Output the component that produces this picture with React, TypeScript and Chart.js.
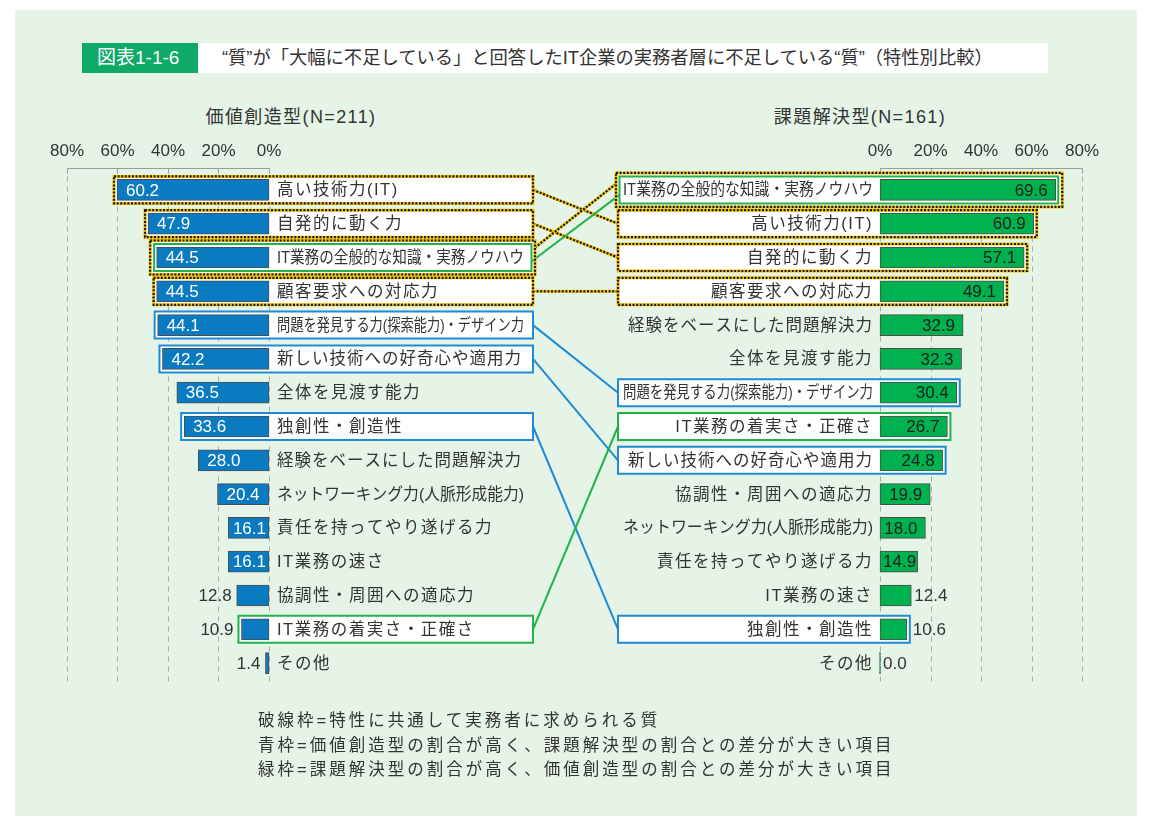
import React, { useEffect, useRef } from 'react';
import { Chart, registerables } from 'chart.js';

Chart.register(...registerables);

// ---------- data ----------
const leftCategories = [
  '高い技術力(IT)',
  '自発的に動く力',
  'IT業務の全般的な知識・実務ノウハウ',
  '顧客要求への対応力',
  '問題を発見する力(探索能力)・デザイン力',
  '新しい技術への好奇心や適用力',
  '全体を見渡す能力',
  '独創性・創造性',
  '経験をベースにした問題解決力',
  'ネットワーキング力(人脈形成能力)',
  '責任を持ってやり遂げる力',
  'IT業務の速さ',
  '協調性・周囲への適応力',
  'IT業務の着実さ・正確さ',
  'その他',
];
const leftValues = [60.2, 47.9, 44.5, 44.5, 44.1, 42.2, 36.5, 33.6, 28.0, 20.4, 16.1, 16.1, 12.8, 10.9, 1.4];

const rightCategories = [
  'IT業務の全般的な知識・実務ノウハウ',
  '高い技術力(IT)',
  '自発的に動く力',
  '顧客要求への対応力',
  '経験をベースにした問題解決力',
  '全体を見渡す能力',
  '問題を発見する力(探索能力)・デザイン力',
  'IT業務の着実さ・正確さ',
  '新しい技術への好奇心や適用力',
  '協調性・周囲への適応力',
  'ネットワーキング力(人脈形成能力)',
  '責任を持ってやり遂げる力',
  'IT業務の速さ',
  '独創性・創造性',
  'その他',
];
const rightValues = [69.6, 60.9, 57.1, 49.1, 32.9, 32.3, 30.4, 26.7, 24.8, 19.9, 18.0, 14.9, 12.4, 10.6, 0.0];

const tickValues = [0, 20, 40, 60, 80];

const commonItems = ['高い技術力(IT)', '自発的に動く力', 'IT業務の全般的な知識・実務ノウハウ', '顧客要求への対応力'];
const blueItems = ['問題を発見する力(探索能力)・デザイン力', '新しい技術への好奇心や適用力', '独創性・創造性'];
const greenItems = ['IT業務の全般的な知識・実務ノウハウ', 'IT業務の着実さ・正確さ'];

const figureNo = '図表1-1-6';
const titleText = '“質”が「大幅に不足している」と回答したIT企業の実務者層に不足している“質”（特性別比較）';
const leftTitle = '価値創造型(N=211)';
const rightTitle = '課題解決型(N=161)';
const notes = [
  '破線枠=特性に共通して実務者に求められる質',
  '青枠=価値創造型の割合が高く、課題解決型の割合との差分が大きい項目',
  '緑枠=課題解決型の割合が高く、価値創造型の割合との差分が大きい項目',
];

// ---------- style ----------
const FONT = '"Liberation Sans", "Noto Sans CJK JP", sans-serif';
const TEXT = '#333333';
const BLUE_BAR = '#0b7bc1';
const GREEN_BAR = '#00b14f';
const BLUE_LINE = '#1f8bd3';
const GREEN_LINE = '#22b24c';
const YELLOW = '#f4c300';

type Box = {
  side: 'L' | 'R';
  name: string;
  kind: string;
  double: boolean;
  x1: number;
  x2: number;
  y1: number;
  y2: number;
  y: number;
};

function sideBoxes(chart: any, side: 'L' | 'R'): Box[] {
  const isL = side === 'L';
  const cats = isL ? leftCategories : rightCategories;
  const vals = isL ? leftValues : rightValues;
  const xs = isL ? chart.scales.xL : chart.scales.xR;
  const ys = isL ? chart.scales.yL : chart.scales.yR;
  const zero = xs.getPixelForValue(0);
  const fixedEdge = isL ? zero + 264 : zero - 262;
  const out: Box[] = [];
  cats.forEach((name, i) => {
    const kinds: string[] = [];
    if (commonItems.includes(name)) kinds.push('dash');
    if (blueItems.includes(name)) kinds.push('blue');
    if (greenItems.includes(name)) kinds.push('green');
    const y = ys.getPixelForValue(i);
    const barEnd = xs.getPixelForValue(vals[i]);
    kinds.forEach((kind, k) => {
      const double = kinds.length > 1;
      const outer = double && k === 0;
      const pad = outer ? 6.5 : double ? 2.5 : 3;
      const half = outer ? 17 : 13.5;
      const extra = outer ? 2 : double ? -1.5 : 0;
      const x1 = isL ? barEnd - pad : fixedEdge - extra;
      const x2 = isL ? fixedEdge + extra : barEnd + pad;
      out.push({ side, name, kind, double, x1, x2, y1: y - half, y2: y + half, y });
    });
  });
  return out;
}

function strokeStyled(ctx: CanvasRenderingContext2D, kind: string, path: () => void) {
  ctx.save();
  if (kind === 'dash') {
    ctx.setLineDash([]);
    ctx.strokeStyle = YELLOW;
    ctx.lineWidth = 3;
    path();
    ctx.stroke();
    ctx.setLineDash([2, 1.6]);
    ctx.strokeStyle = '#1a1a1a';
    ctx.lineWidth = 2.2;
    path();
    ctx.stroke();
  } else {
    ctx.setLineDash([]);
    ctx.strokeStyle = kind === 'blue' ? BLUE_LINE : GREEN_LINE;
    ctx.lineWidth = 2;
    path();
    ctx.stroke();
  }
  ctx.restore();
}

function drawLabel(ctx: CanvasRenderingContext2D, text: string, x: number, y: number, maxW: number) {
  const c = ctx as any;
  for (const sp of [1.5, 1, 0.5, 0]) {
    c.letterSpacing = `${sp}px`;
    if (ctx.measureText(text).width <= maxW || sp === 0) break;
  }
  ctx.fillText(text, x, y, maxW);
  c.letterSpacing = '0px';
}

const annotPlugin = {
  id: 'annot',
  beforeDatasetsDraw(chart: any) {
    const ctx: CanvasRenderingContext2D = chart.ctx;
    const { top, bottom } = chart.chartArea;
    const axisY = Math.round(top - 5) + 0.5;
    const gridBottom = bottom + 6;
    ctx.save();
    ctx.lineWidth = 1;
    for (const sc of [chart.scales.xL, chart.scales.xR]) {
      ctx.strokeStyle = '#ababab';
      ctx.setLineDash([5, 5]);
      for (const v of tickValues) {
        const x = Math.round(sc.getPixelForValue(v)) + 0.5;
        ctx.beginPath();
        ctx.moveTo(x, axisY + 8);
        ctx.lineTo(x, gridBottom);
        ctx.stroke();
      }
      ctx.setLineDash([]);
      ctx.strokeStyle = '#9a9a9a';
      const a = Math.round(sc.getPixelForValue(tickValues[0])) + 0.5;
      const b = Math.round(sc.getPixelForValue(tickValues[tickValues.length - 1])) + 0.5;
      ctx.beginPath();
      ctx.moveTo(Math.min(a, b), axisY);
      ctx.lineTo(Math.max(a, b), axisY);
      ctx.stroke();
      for (const v of tickValues) {
        const x = Math.round(sc.getPixelForValue(v)) + 0.5;
        ctx.beginPath();
        ctx.moveTo(x, axisY);
        ctx.lineTo(x, axisY + 5);
        ctx.stroke();
      }
    }
    const boxes = [...sideBoxes(chart, 'L'), ...sideBoxes(chart, 'R')];
    ctx.fillStyle = '#ffffff';
    for (const b of boxes) ctx.fillRect(b.x1, b.y1, b.x2 - b.x1, b.y2 - b.y1);
    ctx.restore();
  },
  afterDatasetsDraw(chart: any) {
    const ctx: CanvasRenderingContext2D = chart.ctx;
    const bL = sideBoxes(chart, 'L');
    const bR = sideBoxes(chart, 'R');
    // connectors
    for (const l of bL) {
      const r = bR.find((b) => b.name === l.name && b.kind === l.kind);
      if (!r) continue;
      let dyL = 0;
      let dyR = 0;
      if (l.double) {
        if (l.kind === 'dash') { dyL = -10; dyR = -6; } else { dyL = 4; dyR = 5; }
      }
      strokeStyled(ctx, l.kind, () => {
        ctx.beginPath();
        ctx.moveTo(l.x2, l.y + dyL);
        ctx.lineTo(r.x1, r.y + dyR);
      });
    }
    // box strokes
    for (const b of [...bL, ...bR]) {
      strokeStyled(ctx, b.kind, () => {
        ctx.beginPath();
        ctx.rect(b.x1, b.y1, b.x2 - b.x1, b.y2 - b.y1);
      });
    }
    // category labels & values
    const sides: Array<['L' | 'R', string[], number[], any, any, Box[]]> = [
      ['L', leftCategories, leftValues, chart.scales.xL, chart.scales.yL, bL],
      ['R', rightCategories, rightValues, chart.scales.xR, chart.scales.yR, bR],
    ];
    ctx.save();
    ctx.textBaseline = 'middle';
    for (const [side, cats, vals, xs, ys, boxes] of sides) {
      const zero = xs.getPixelForValue(0);
      cats.forEach((name, i) => {
        const y = ys.getPixelForValue(i) + 1;
        ctx.font = `16.5px ${FONT}`;
        ctx.fillStyle = TEXT;
        if (side === 'L') {
          ctx.textAlign = 'left';
          drawLabel(ctx, name, zero + 8, y, 247);
        } else {
          ctx.textAlign = 'right';
          drawLabel(ctx, name, zero - 7, y, 250);
        }
        ctx.font = `17px ${FONT}`;
        const v = vals[i];
        const txt = v.toFixed(1);
        const w = ctx.measureText(txt).width;
        const barEnd = xs.getPixelForValue(v);
        const box = boxes.find((b) => b.name === name);
        if (side === 'L') {
          if (v >= 14) {
            ctx.fillStyle = '#ffffff';
            ctx.textAlign = 'left';
            ctx.fillText(txt, Math.min(barEnd + 9, zero - 3 - w), y);
          } else {
            ctx.fillStyle = TEXT;
            ctx.textAlign = 'right';
            ctx.fillText(txt, box ? box.x1 - 5 : barEnd - 5, y);
          }
        } else {
          if (v >= 14) {
            ctx.fillStyle = '#1e1e1e';
            ctx.textAlign = 'right';
            ctx.fillText(txt, Math.max(barEnd - 8, zero + 3 + w), y);
          } else {
            ctx.fillStyle = TEXT;
            ctx.textAlign = 'left';
            ctx.fillText(txt, box ? box.x2 + 3 : barEnd + 3, y);
          }
        }
      });
    }
    ctx.restore();
  },
};

function xAxis(reverse: boolean) {
  return {
    type: 'linear' as const,
    position: 'top' as const,
    stack: 'xstack',
    stackWeight: 1,
    reverse,
    min: -121,
    max: 80,
    grid: { display: false, drawTicks: false },
    border: { display: false },
    afterBuildTicks: (s: any) => {
      s.ticks = tickValues.map((v) => ({ value: v }));
    },
    ticks: {
      padding: 11,
      color: TEXT,
      font: { size: 17, family: FONT },
      callback: (v: any) => `${v}%`,
      maxRotation: 0,
      autoSkip: false,
    },
  };
}

export default function App() {
  const canvasRef = useRef<HTMLCanvasElement | null>(null);

  useEffect(() => {
    if (!canvasRef.current) return;
    const chart = new Chart(canvasRef.current, {
      type: 'bar',
      data: {
        datasets: [
          {
            label: leftTitle,
            data: leftValues,
            xAxisID: 'xL',
            yAxisID: 'yL',
            backgroundColor: BLUE_BAR,
            borderColor: '#4d4d4d',
            borderWidth: 1,
            borderSkipped: false,
            barThickness: 21,
            grouped: false,
          },
          {
            label: rightTitle,
            data: rightValues,
            xAxisID: 'xR',
            yAxisID: 'yR',
            backgroundColor: GREEN_BAR,
            borderColor: '#4d4d4d',
            borderWidth: 1,
            borderSkipped: false,
            barThickness: 21,
            minBarLength: 1,
            grouped: false,
          },
        ],
      },
      options: {
        animation: false,
        responsive: false,
        indexAxis: 'y',
        layout: { padding: { left: 67, right: 83, top: 130.6, bottom: 144 } },
        plugins: {
          legend: { display: false },
          tooltip: { enabled: false },
          title: { display: false },
        },
        scales: {
          xR: xAxis(false),
          xL: xAxis(true),
          yL: { type: 'category', labels: leftCategories, position: 'left', display: false, offset: true },
          yR: { type: 'category', labels: rightCategories, position: 'right', display: false, offset: true },
        },
      } as any,
      plugins: [annotPlugin as any],
    });
    return () => chart.destroy();
  }, []);

  const abs = (o: React.CSSProperties): React.CSSProperties => ({ position: 'absolute', ...o });

  return (
    <div style={abs({ left: 0, top: 0, width: 1165, height: 824, fontFamily: FONT, color: TEXT, overflow: 'hidden', background: '#ffffff' })}>
      <div style={abs({ left: 15, top: 10, width: 1122, height: 806, background: '#e6f4e7' })} />
      <div style={abs({ left: 82, top: 43, width: 116, height: 30, background: '#0fa968', color: '#ffffff', fontSize: 19, lineHeight: '30px', paddingLeft: 15, boxSizing: 'border-box', whiteSpace: 'nowrap' })}>
        {figureNo}
      </div>
      <div style={abs({ left: 198, top: 43, width: 850, height: 30, background: '#ffffff', fontSize: 18.3, lineHeight: '30px', paddingLeft: 24, boxSizing: 'border-box', whiteSpace: 'nowrap' })}>
        {titleText}
      </div>
      <div style={abs({ left: 141, top: 105, width: 300, textAlign: 'center', fontSize: 18, letterSpacing: '1.4px', lineHeight: '24px', whiteSpace: 'nowrap' })}>
        {leftTitle}
      </div>
      <div style={abs({ left: 710, top: 105, width: 300, textAlign: 'center', fontSize: 18, letterSpacing: '1.4px', lineHeight: '24px', whiteSpace: 'nowrap' })}>
        {rightTitle}
      </div>
      <canvas ref={canvasRef} width={1165} height={824} style={abs({ left: 0, top: 0, width: 1165, height: 824 })} />
      <div style={abs({ left: 258, top: 708, fontSize: 16.5, letterSpacing: '3px', lineHeight: '24.5px', whiteSpace: 'nowrap' })}>
        {notes.map((n) => (
          <div key={n}>{n}</div>
        ))}
      </div>
    </div>
  );
}
